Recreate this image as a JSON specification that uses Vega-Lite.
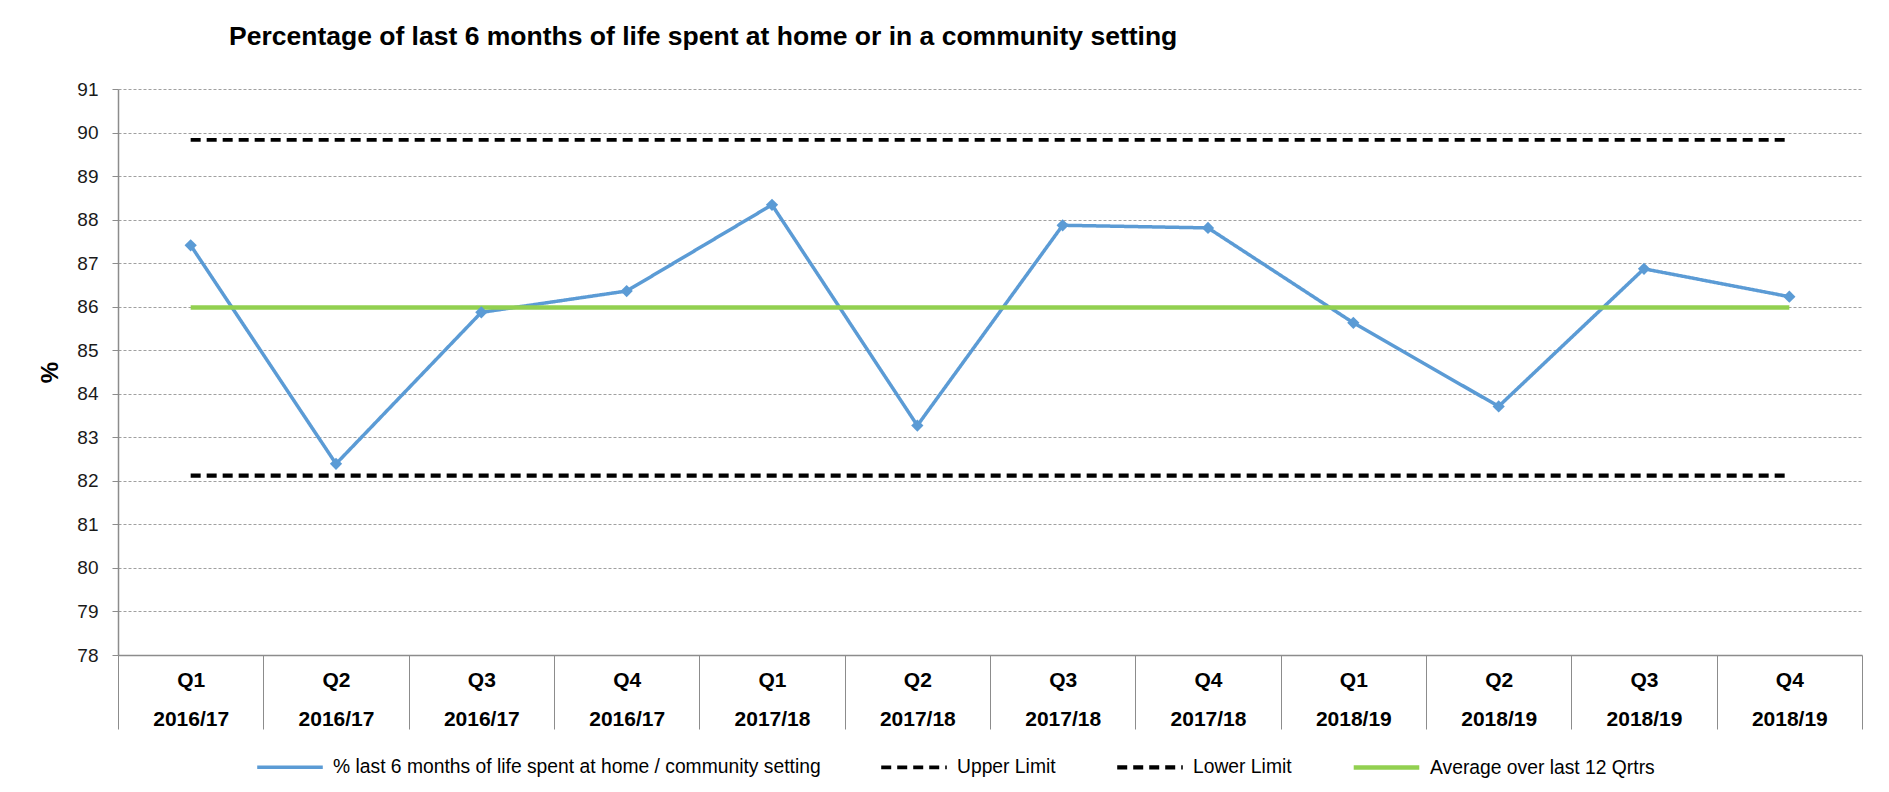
{
  "$schema": "https://vega.github.io/schema/vega-lite/v6.json",
  "autosize": "none",
  "padding": {"left": 118, "top": 89, "right": 27, "bottom": 137},
  "width": 1744,
  "height": 566,
  "background": "white",
  "title": {
    "text": "Percentage of last 6 months of life spent at home or in a community setting",
    "anchor": "start",
    "frame": "group",
    "dx": 111,
    "offset": 30,
    "font": "Liberation Sans",
    "fontSize": 26.5,
    "fontWeight": "bold",
    "color": "#000000"
  },
  "config": {
    "view": {"stroke": null},
    "font": "Liberation Sans",
    "legend": {
      "title": null,
      "orient": "none",
      "legendX": 137,
      "legendY": 643,
      "direction": "horizontal",
      "labelFont": "Liberation Sans",
      "labelFontSize": 19.3,
      "labelColor": "#000000",
      "symbolType": "stroke",
      "symbolSize": 4300,
      "labelOffset": 8,
      "columnPadding": 52,
      "labelLimit": 700
    }
  },
  "data": {
    "values": [
      {"period": "Q1 2016/17", "series": "% last 6 months of life spent at home / community setting", "value": 87.41},
      {"period": "Q2 2016/17", "series": "% last 6 months of life spent at home / community setting", "value": 82.39},
      {"period": "Q3 2016/17", "series": "% last 6 months of life spent at home / community setting", "value": 85.87},
      {"period": "Q4 2016/17", "series": "% last 6 months of life spent at home / community setting", "value": 86.36},
      {"period": "Q1 2017/18", "series": "% last 6 months of life spent at home / community setting", "value": 88.34},
      {"period": "Q2 2017/18", "series": "% last 6 months of life spent at home / community setting", "value": 83.27},
      {"period": "Q3 2017/18", "series": "% last 6 months of life spent at home / community setting", "value": 87.87},
      {"period": "Q4 2017/18", "series": "% last 6 months of life spent at home / community setting", "value": 87.81},
      {"period": "Q1 2018/19", "series": "% last 6 months of life spent at home / community setting", "value": 85.63},
      {"period": "Q2 2018/19", "series": "% last 6 months of life spent at home / community setting", "value": 83.71},
      {"period": "Q3 2018/19", "series": "% last 6 months of life spent at home / community setting", "value": 86.87},
      {"period": "Q4 2018/19", "series": "% last 6 months of life spent at home / community setting", "value": 86.23},
      {"period": "Q1 2016/17", "series": "Upper Limit", "value": 89.83},
      {"period": "Q2 2016/17", "series": "Upper Limit", "value": 89.83},
      {"period": "Q3 2016/17", "series": "Upper Limit", "value": 89.83},
      {"period": "Q4 2016/17", "series": "Upper Limit", "value": 89.83},
      {"period": "Q1 2017/18", "series": "Upper Limit", "value": 89.83},
      {"period": "Q2 2017/18", "series": "Upper Limit", "value": 89.83},
      {"period": "Q3 2017/18", "series": "Upper Limit", "value": 89.83},
      {"period": "Q4 2017/18", "series": "Upper Limit", "value": 89.83},
      {"period": "Q1 2018/19", "series": "Upper Limit", "value": 89.83},
      {"period": "Q2 2018/19", "series": "Upper Limit", "value": 89.83},
      {"period": "Q3 2018/19", "series": "Upper Limit", "value": 89.83},
      {"period": "Q4 2018/19", "series": "Upper Limit", "value": 89.83},
      {"period": "Q1 2016/17", "series": "Lower Limit", "value": 82.12},
      {"period": "Q2 2016/17", "series": "Lower Limit", "value": 82.12},
      {"period": "Q3 2016/17", "series": "Lower Limit", "value": 82.12},
      {"period": "Q4 2016/17", "series": "Lower Limit", "value": 82.12},
      {"period": "Q1 2017/18", "series": "Lower Limit", "value": 82.12},
      {"period": "Q2 2017/18", "series": "Lower Limit", "value": 82.12},
      {"period": "Q3 2017/18", "series": "Lower Limit", "value": 82.12},
      {"period": "Q4 2017/18", "series": "Lower Limit", "value": 82.12},
      {"period": "Q1 2018/19", "series": "Lower Limit", "value": 82.12},
      {"period": "Q2 2018/19", "series": "Lower Limit", "value": 82.12},
      {"period": "Q3 2018/19", "series": "Lower Limit", "value": 82.12},
      {"period": "Q4 2018/19", "series": "Lower Limit", "value": 82.12},
      {"period": "Q1 2016/17", "series": "Average over last 12 Qrtrs", "value": 85.98},
      {"period": "Q2 2016/17", "series": "Average over last 12 Qrtrs", "value": 85.98},
      {"period": "Q3 2016/17", "series": "Average over last 12 Qrtrs", "value": 85.98},
      {"period": "Q4 2016/17", "series": "Average over last 12 Qrtrs", "value": 85.98},
      {"period": "Q1 2017/18", "series": "Average over last 12 Qrtrs", "value": 85.98},
      {"period": "Q2 2017/18", "series": "Average over last 12 Qrtrs", "value": 85.98},
      {"period": "Q3 2017/18", "series": "Average over last 12 Qrtrs", "value": 85.98},
      {"period": "Q4 2017/18", "series": "Average over last 12 Qrtrs", "value": 85.98},
      {"period": "Q1 2018/19", "series": "Average over last 12 Qrtrs", "value": 85.98},
      {"period": "Q2 2018/19", "series": "Average over last 12 Qrtrs", "value": 85.98},
      {"period": "Q3 2018/19", "series": "Average over last 12 Qrtrs", "value": 85.98},
      {"period": "Q4 2018/19", "series": "Average over last 12 Qrtrs", "value": 85.98}
    ]
  },
  "encoding": {
    "x": {
      "field": "period",
      "type": "nominal",
      "sort": null,
      "bandPosition": 0.5,
      "scale": {"type": "band", "paddingInner": 0, "paddingOuter": 0},
      "axis": {
        "title": null,
        "labelAngle": 0,
        "labelExpr": "datum.value ? split(datum.value, ' ') : ''",
        "labelFont": "Liberation Sans",
        "labelFontSize": 21,
        "labelFontWeight": "bold",
        "labelColor": "#000000",
        "labelLineHeight": 39,
        "labelBaseline": "top",
        "labelPadding": -60,
        "tickBand": "extent",
        "tickSize": 74,
        "tickColor": "#8c8c8c",
        "tickWidth": 1,
        "domainColor": "#8c8c8c",
        "domainWidth": 1.5,
        "grid": false
      }
    },
    "y": {
      "field": "value",
      "type": "quantitative",
      "scale": {"domain": [78, 91], "zero": false, "nice": false},
      "axis": {
        "title": "%",
        "titleFont": "Liberation Sans",
        "titleFontSize": 24,
        "titleFontWeight": "bold",
        "titleColor": "#000000",
        "titlePadding": 14,
        "values": [78, 79, 80, 81, 82, 83, 84, 85, 86, 87, 88, 89, 90, 91],
        "labelFont": "Liberation Sans",
        "labelFontSize": 19,
        "labelColor": "#1a1a1a",
        "labelPadding": 14,
        "tickSize": 6,
        "tickColor": "#8c8c8c",
        "domainColor": "#8c8c8c",
        "domainWidth": 1.5,
        "grid": true,
        "gridColor": "#a0a0a0",
        "gridDash": [3, 2],
        "gridWidth": 1
      }
    }
  },
  "layer": [
    {
      "mark": {"type": "line", "strokeCap": "butt"},
      "encoding": {
        "color": {
          "field": "series",
          "type": "nominal",
          "scale": {
            "domain": ["% last 6 months of life spent at home / community setting", "Upper Limit", "Lower Limit", "Average over last 12 Qrtrs"],
            "range": ["#5b9bd5", "#000000", "#000000", "#92d050"]
          }
        },
        "strokeDash": {
          "field": "series",
          "type": "nominal",
          "scale": {
            "domain": ["% last 6 months of life spent at home / community setting", "Upper Limit", "Lower Limit", "Average over last 12 Qrtrs"],
            "range": [[1, 0], [10, 6], [10, 6], [1, 0]]
          }
        },
        "strokeWidth": {
          "field": "series",
          "type": "nominal",
          "scale": {
            "domain": ["% last 6 months of life spent at home / community setting", "Upper Limit", "Lower Limit", "Average over last 12 Qrtrs"],
            "range": [3.5, 4.5, 4.5, 6]
          }
        }
      }
    },
    {
      "transform": [{"filter": "datum.series === '% last 6 months of life spent at home / community setting'"}],
      "mark": {"type": "point", "shape": "diamond", "filled": true, "size": 150, "color": "#5b9bd5", "opacity": 1},
      "encoding": {}
    }
  ]
}
